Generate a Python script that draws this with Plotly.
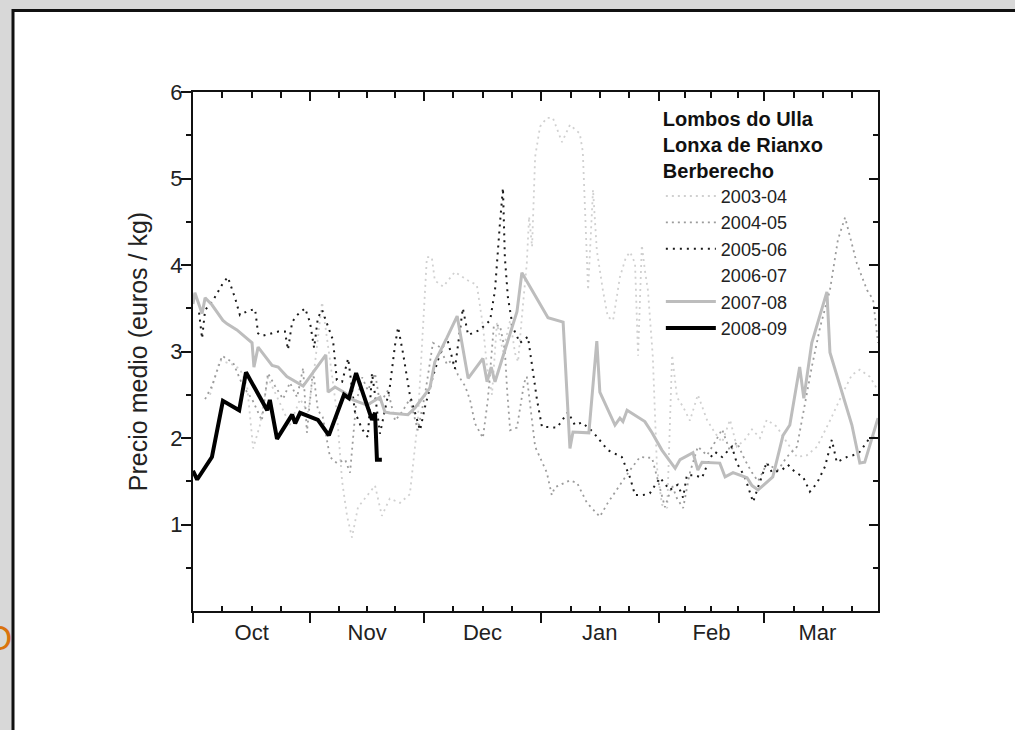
import pandas as pd
import plotly.graph_objects as go

# ---------------- data (days since 1 October, price in euros/kg) ----------------
season_start = "2008-10-01"
season_end = "2009-03-31"
months = ["2008-10-01", "2008-11-01", "2008-12-01", "2009-01-01", "2009-02-01", "2009-03-01", "2009-04-01"]
y_ticks = [1, 2, 3, 4, 5, 6]
y_minor = [0.5, 1.5, 2.5, 3.5, 4.5, 5.5]

legend_title = ["Lombos do Ulla", "Lonxa de Rianxo", "Berberecho"]
y_title = "Precio medio (euros / kg)"

days_0304 = [4.5, 7.1, 10.3, 12.4, 14.3, 15.9, 17.7, 19.8, 23.0, 25.6, 28.3, 30.4, 32.2, 34.1, 36.2, 38.0,
             39.4, 40.7, 42.0, 43.6, 45.4, 48.1, 49.9, 52.0, 54.7, 57.3, 59.4, 60.8, 61.8, 63.1, 63.9, 66.1,
             69.2, 72.7, 75.0, 76.6, 77.7, 79.0, 80.3, 81.9, 83.8, 85.1, 85.9, 86.9, 88.2, 88.8, 89.6, 90.4,
             91.7, 93.5, 95.1, 97.5, 99.6, 102.2, 103.0, 104.4, 105.7, 106.7, 108.3, 109.6, 111.0, 112.8,
             114.4, 115.5, 116.8, 117.6, 118.6, 119.4, 120.2, 121.5, 122.6, 123.9, 125.3, 126.6, 127.9,
             129.5, 131.3, 133.4, 135.8, 137.9, 139.8, 141.9, 143.7, 145.8, 147.7, 149.8, 151.6, 154.3,
             156.9, 159.6, 162.2, 164.9, 168.3, 171.7, 174.1, 176.2, 178.8, 181.0]
vals_0304 = [2.50, 2.90, 2.85, 2.80, 2.60, 1.88, 2.15, 2.70, 2.40, 2.15, 2.45, 2.30, 2.85, 3.57, 2.90, 2.30,
             1.50, 1.10, 0.85, 1.20, 1.30, 1.45, 1.10, 1.30, 1.25, 1.35, 2.20, 3.40, 4.09, 4.09, 3.82, 3.75,
             3.92, 3.82, 3.77, 3.30, 2.82, 2.50, 3.33, 3.00, 3.36, 2.98, 2.88, 3.40, 4.02, 4.56, 4.21, 5.25,
             5.60, 5.70, 5.70, 5.42, 5.62, 5.52, 5.31, 3.71, 4.87, 4.17, 3.71, 3.40, 3.36, 3.86,
             4.09, 4.15, 4.02, 2.95, 4.23, 3.94, 3.71, 2.94, 1.66, 1.23, 1.19, 2.96, 2.47,
             2.36, 2.20, 2.50, 2.21, 2.06, 1.95, 2.21, 1.90, 1.98, 2.10, 2.00, 2.21, 2.13,
             1.95, 1.78, 1.80, 1.90, 2.20, 2.52, 2.73, 2.79, 2.71, 2.55]

days_0405 = [3.2, 5.0, 7.7, 10.6, 13.2, 15.6, 18.2, 19.8, 21.7, 23.8, 25.6, 27.5, 29.1, 30.1, 31.7, 33.0,
             34.3, 36.2, 38.0, 40.2, 41.5, 43.1, 44.7, 46.2, 48.1, 49.4, 51.5, 53.4, 55.2, 57.3, 59.4, 61.3,
             63.4, 65.3, 67.1, 68.4, 70.0, 71.9, 73.2, 74.5, 76.6, 77.9, 79.5, 81.1, 82.4, 83.0, 83.8, 85.6,
             87.5, 88.2, 90.4, 93.5, 94.8, 95.6, 99.6, 101.5, 104.1, 107.5, 109.6, 112.8, 115.5, 118.1,
             121.3, 122.6, 124.7, 126.6, 127.9, 129.5, 131.3, 133.4, 135.8, 137.9, 139.8, 141.9, 143.7,
             145.8, 147.7, 149.3, 151.6, 154.6, 156.9, 159.6, 162.2, 163.5, 165.7, 168.3, 170.4, 172.3,
             175.4, 178.1, 179.7, 181.0]
vals_0405 = [2.45, 2.60, 2.95, 2.87, 2.60, 2.45, 2.20, 2.75, 2.60, 2.45, 2.64, 2.47, 2.81, 2.06, 2.79, 2.32,
             2.24, 1.78, 1.71, 1.75, 1.60, 2.40, 2.70, 2.55, 2.75, 2.40, 2.55, 2.20, 2.30, 2.45, 2.09, 2.50,
             3.10, 3.05, 2.85, 2.90, 2.73, 2.60, 2.44, 2.17, 2.00, 2.44, 3.30, 3.30, 3.02, 2.55, 2.09, 2.12,
             2.64, 2.71, 1.90, 1.60, 1.34, 1.43, 1.51, 1.48, 1.25, 1.09, 1.25, 1.46, 1.63, 1.78,
             1.77, 1.55, 1.20, 1.45, 1.30, 1.19, 1.60, 1.90, 1.80, 1.95, 2.10, 1.85, 1.95,
             1.75, 1.60, 1.50, 1.70, 1.63, 1.78, 1.90, 2.52, 2.82, 3.28, 3.71, 4.29, 4.55,
             4.02, 3.71, 3.60, 3.10]

days_0506 = [1.6, 2.4, 3.2, 5.3, 7.9, 9.2, 11.1, 12.4, 14.5, 16.4, 17.2, 18.2, 22.5, 24.3, 25.1, 26.2,
             27.5, 29.6, 30.9, 32.0, 33.0, 34.1, 37.0, 38.0, 39.4, 41.0, 42.8, 44.7, 46.2, 47.3, 48.1, 49.4,
             52.0, 53.4, 54.2, 55.5, 57.3, 59.2, 60.0, 61.3, 63.4, 65.3, 67.1, 69.2, 71.3, 72.7, 75.8, 78.5,
             79.8, 81.1, 81.9, 82.4, 83.2, 84.5, 86.4, 88.5, 89.6, 90.9, 92.2, 96.2, 99.1, 100.9, 102.8,
             105.7, 109.6, 113.3, 115.5, 116.8, 118.9, 120.7, 123.4, 126.0, 128.1, 129.5, 130.5, 132.6,
             134.5, 136.6, 137.9, 139.8, 142.4, 143.7, 145.8, 147.2, 148.0, 149.3, 150.6, 151.6, 153.0,
             155.6, 157.2, 159.0, 161.2, 163.0, 164.9, 167.0, 168.8, 170.1, 172.8, 174.4, 176.2, 178.8, 181.0]
vals_0506 = [3.45, 3.15, 3.48, 3.59, 3.79, 3.86, 3.62, 3.42, 3.47, 3.49, 3.21, 3.18, 3.23, 3.23, 3.02, 3.34,
             3.42, 3.50, 3.34, 3.04, 3.39, 3.48, 3.13, 2.67, 2.65, 2.92, 2.30, 2.10, 2.01, 2.75, 2.50, 2.05,
             2.59, 3.08, 3.28, 2.98, 2.50, 2.21, 2.09, 2.36, 2.71, 2.98, 3.16, 2.80, 3.50, 3.19, 3.25, 3.36,
             3.71, 4.48, 4.89, 4.09, 3.63, 3.28, 3.10, 3.17, 2.82, 2.44, 2.13, 2.12, 2.30, 2.15, 2.18,
             2.07, 1.86, 1.78, 1.54, 1.34, 1.34, 1.36, 1.54, 1.40, 1.46, 1.31, 1.57, 1.57,
             1.54, 1.77, 1.84, 1.78, 1.90, 1.71, 1.55, 1.36, 1.26, 1.43, 1.60, 1.72, 1.60,
             1.63, 1.69, 1.61, 1.55, 1.38, 1.48, 1.67, 1.98, 1.72, 1.78, 1.80, 1.84, 2.00, 2.02]

days_0607 = [None]
vals_0607 = [None]

days_0708 = [0.0, 0.5, 2.4, 3.2, 5.0, 7.9, 9.0, 11.6, 15.6, 16.1, 17.2, 20.9, 22.5, 24.8, 29.1, 35.1,
             35.7, 37.5, 40.2, 42.3, 46.0, 49.4, 50.7, 52.0, 56.8, 58.7, 62.6, 63.9, 67.1, 69.8, 72.7, 76.6,
             77.7, 78.8, 79.8, 85.6, 86.9, 93.8, 97.8, 99.6, 100.4, 104.6, 106.7, 107.5, 111.5, 112.8,
             113.6, 114.7, 119.4, 121.3, 123.9, 127.4, 128.7, 132.1, 133.4, 134.5, 139.2, 140.6, 142.7,
             146.4, 147.7, 149.3, 153.2, 155.9, 157.7, 160.3, 161.4, 163.5, 167.5, 168.3, 174.1, 176.2,
             177.5, 181.0]
vals_0708 = [3.55, 3.68, 3.44, 3.62, 3.54, 3.36, 3.32, 3.25, 3.10, 2.82, 3.05, 2.84, 2.82, 2.71, 2.60, 2.96,
             2.53, 2.59, 2.52, 2.44, 2.38, 2.47, 2.30, 2.29, 2.27, 2.35, 2.58, 2.88, 3.16, 3.41, 2.69, 2.92,
             2.65, 2.82, 2.65, 3.46, 3.91, 3.39, 3.34, 1.88, 2.07, 2.06, 3.12, 2.53, 2.15, 2.23,
             2.19, 2.32, 2.19, 2.06, 1.86, 1.65, 1.75, 1.83, 1.63, 1.72, 1.71, 1.55, 1.60,
             1.54, 1.45, 1.40, 1.55, 2.03, 2.15, 2.82, 2.46, 3.10, 3.69, 2.99, 2.15, 1.71,
             1.72, 2.23]

days_0809 = [0.0, 1.1, 5.0, 7.9, 12.2, 14.0, 19.6, 20.3, 22.2, 26.2, 27.0, 28.3, 33.0, 35.9, 39.9, 41.2,
             43.1, 47.3, 48.1, 48.6, 49.9]
vals_0809 = [1.62, 1.52, 1.78, 2.43, 2.32, 2.76, 2.32, 2.44, 1.99, 2.27, 2.17, 2.29, 2.21, 2.03, 2.50, 2.46,
             2.75, 2.21, 2.29, 1.75, 1.75]

series = [
    ("2003-04", days_0304, vals_0304, dict(color="#d0d0d0", width=1.8, dash="2px,4px")),
    ("2004-05", days_0405, vals_0405, dict(color="#9c9c9c", width=1.8, dash="2px,4px")),
    ("2005-06", days_0506, vals_0506, dict(color="#1a1a1a", width=2, dash="2px,5px")),
    ("2006-07", days_0607, vals_0607, dict(color="#ffffff", width=2)),
    ("2007-08", days_0708, vals_0708, dict(color="#bdbdbd", width=3)),
    ("2008-09", days_0809, vals_0809, dict(color="#000000", width=4)),
]

FONT = "Arial, Liberation Sans, sans-serif"
W, H = 1015, 730
ML, MR, MT, MB = 193, 137, 92, 119

base = pd.Timestamp(season_start)


def to_dates(days):
    return [None if d is None else base + pd.Timedelta(days=d) for d in days]


fig = go.Figure()
for name, d, v, line in series:
    fig.add_trace(go.Scatter(x=to_dates(d), y=v, mode="lines", name=name, line=line,
                             connectgaps=False))

# invisible helper trace so the mirrored top/right axes are drawn
fig.add_trace(go.Scatter(x=[None], y=[None], xaxis="x2", yaxis="y2", showlegend=False,
                         hoverinfo="skip", mode="lines"))

# quarter-month minor ticks
month_ts = [pd.Timestamp(m) for m in months]
minor_vals = []
for a, b in zip(month_ts[:-1], month_ts[1:]):
    for k in (1, 2, 3):
        minor_vals.append(a + (b - a) * k / 4)

x_range = [season_start, season_end]
common_x = dict(type="date", range=x_range, showgrid=False, zeroline=False,
                tick0=season_start, dtick="M1", linecolor="#111", linewidth=2,
                tickcolor="#111", tickwidth=1.5)

fig.update_layout(
    width=W, height=H,
    margin=dict(l=ML, r=MR, t=MT, b=MB),
    paper_bgcolor="white", plot_bgcolor="white",
    font=dict(family=FONT, color="#222"),
    xaxis=dict(**common_x, showline=True, ticks="outside", ticklen=10,
               ticklabelmode="period", tickformat="%b", ticklabelstandoff=-9,
               tickfont=dict(size=22, color="#222"),
               minor=dict(tickmode="array", tickvals=minor_vals, ticks="inside", ticklen=5,
                          tickcolor="#111", tickwidth=1.5, showgrid=False)),
    xaxis2=dict(**common_x, overlaying="x", side="top", anchor="y2", showline=True,
                ticks="inside", ticklen=9, showticklabels=False,
                minor=dict(tickmode="array", tickvals=minor_vals, ticks="inside", ticklen=6,
                           tickcolor="#111", tickwidth=1.5, showgrid=False)),
    yaxis=dict(range=[0, 6], showgrid=False, zeroline=False, showline=True, linecolor="#111",
               linewidth=2, tickmode="array", tickvals=y_ticks, ticks="outside", ticklen=10,
               tickcolor="#111", tickwidth=1.5, tickfont=dict(size=22, color="#222"),
               ticklabelstandoff=-6,
               title=dict(text=y_title, font=dict(size=25, color="#222"), standoff=16),
               minor=dict(tickmode="array", tickvals=y_minor, ticks="outside", ticklen=5,
                          tickcolor="#111", tickwidth=1.5, showgrid=False)),
    yaxis2=dict(range=[0, 6], overlaying="y", side="right", anchor="x2", showgrid=False,
                zeroline=False, showline=True, linecolor="#111", linewidth=2,
                tickmode="array", tickvals=y_ticks, ticks="inside", ticklen=9, tickcolor="#111",
                tickwidth=1.5, showticklabels=False,
                minor=dict(tickmode="array", tickvals=y_minor, ticks="inside", ticklen=5,
                           tickcolor="#111", tickwidth=1.5, showgrid=False)),
    legend=dict(x=0.683, y=0.985, xanchor="left", yanchor="top", bgcolor="rgba(0,0,0,0)",
                font=dict(size=18, color="#222"), itemwidth=50, tracegroupgap=0,
                title=dict(text="<br>".join(legend_title),
                           font=dict(size=20, color="#111", weight="bold"))),
    showlegend=True,
)


# slide decoration around the chart (paper coordinates from page pixels)
def px(xp):
    return (xp - ML) / (W - ML - MR)


def py(yp):
    return (H - MB - yp) / (H - MT - MB)


deco = [
    (0, 0, W, 9, "#d8d8d8"),
    (0, 0, 12, H, "#d8d8d8"),
    (12, 9, W, 12, "#111111"),
    (11.5, 9, 14.5, H, "#111111"),
]
for x0, y0, x1, y1, c in deco:
    fig.add_shape(type="rect", xref="paper", yref="paper", x0=px(x0), x1=px(x1),
                  y0=py(y1), y1=py(y0), fillcolor=c, line=dict(width=0), layer="below")

fig.add_annotation(text="O", xref="paper", yref="paper", x=px(-2), y=py(637),
                   xanchor="center", yanchor="middle", showarrow=False,
                   font=dict(size=35, color="#d9730d", family=FONT))

fig.write_html("out.html", config={"displayModeBar": False},
               post_script="document.body.style.margin='0';")
